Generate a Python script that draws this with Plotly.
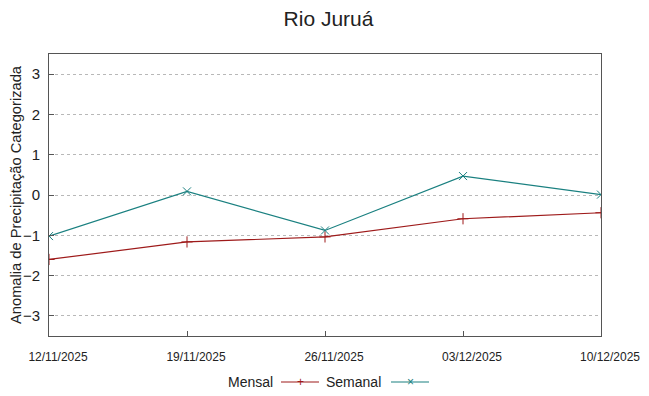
import plotly.graph_objects as go

dates = ["2025-11-12", "2025-11-19", "2025-11-26", "2025-12-03", "2025-12-10"]
mensal = [-1.60, -1.165, -1.04, -0.59, -0.44]
semanal = [-1.02, 0.09, -0.88, 0.47, 0.01]
yticks = [-3, -2, -1, 0, 1, 2, 3]

c_mensal = "#9e1a1a"
c_semanal = "#1a8080"

OFF = 8  # page body margin
W, H = 649 - OFF, 396 - OFF
L, T = 49 - OFF, 54 - OFF
R = W - (601 - OFF)
B = H - (336 - OFF)
PW, PH = W - L - R, H - T - B


def px(x):
    return (x - OFF - L) / PW


def py(y):
    return (H - B - (y - OFF)) / PH


fig = go.Figure()
fig.add_trace(go.Scatter(x=dates, y=mensal, mode="lines+markers", name="Mensal",
                         line=dict(color=c_mensal, width=1.2),
                         marker=dict(symbol="cross-thin", size=8, line=dict(color=c_mensal, width=1))))
fig.add_trace(go.Scatter(x=dates, y=semanal, mode="lines+markers", name="Semanal",
                         line=dict(color=c_semanal, width=1.2),
                         marker=dict(symbol="x-thin", size=8, line=dict(color=c_semanal, width=1))))

font = "Liberation Sans, Arial, sans-serif"
fig.update_layout(
    width=W, height=H,
    margin=dict(l=L, r=R, t=T, b=B, autoexpand=False),
    paper_bgcolor="white", plot_bgcolor="white",
    showlegend=False,
    title=dict(text="Rio Juruá", x=0.5, xanchor="center", y=1 - (19 - OFF) / H, yanchor="middle",
               font=dict(family=font, size=21, color="#222")),
    font=dict(family=font, color="#222"),
)
fig.update_xaxes(
    type="date", range=[dates[0], dates[-1]], tickvals=dates, tickformat="%d/%m/%Y",
    showgrid=False, showline=True, linecolor="#555", linewidth=1, mirror=True,
    ticks="inside", ticklen=5, tickcolor="#555", automargin=False,
    ticklabelstandoff=10, ticklabelshift=9,
    tickfont=dict(size=12, family=font, color="#222"), zeroline=False,
)
fig.update_yaxes(
    range=[-3.5, 3.5], tickvals=yticks, showgrid=True, gridcolor="#b8b8b8", griddash="dot",
    gridwidth=1, showline=True, linecolor="#555", linewidth=1, mirror=True,
    ticks="inside", ticklen=5, tickcolor="#555", zeroline=False, automargin=False,
    ticklabelstandoff=5,
    tickfont=dict(size=15, family=font, color="#222"),
    title=dict(text="Anomalia de Precipitação Categorizada", font=dict(size=14.7, family=font, color="#222"),
               standoff=6),
)

# custom legend (gnuplot style: text then sample)
ly = py(382)
fig.add_annotation(x=px(275), y=ly, xref="paper", yref="paper", yanchor="middle", xanchor="right",
                   text="Mensal", showarrow=False, font=dict(size=14, family=font, color="#222"))
fig.add_annotation(x=px(383), y=ly, xref="paper", yref="paper", yanchor="middle", xanchor="right",
                   text="Semanal", showarrow=False, font=dict(size=14, family=font, color="#222"))
for x0, x1, col, sym in [(281, 319, c_mensal, "+"), (391, 429, c_semanal, "×")]:
    fig.add_shape(type="line", xref="paper", yref="paper",
                  x0=px(x0), x1=px(x1), y0=ly, y1=ly,
                  line=dict(color=col, width=1.2))
    fig.add_annotation(x=px((x0 + x1) / 2), y=ly, xref="paper", yref="paper",
                       text=sym, showarrow=False, font=dict(size=12, color=col),
                       xanchor="center", yanchor="middle")

fig.write_html("out.html")
